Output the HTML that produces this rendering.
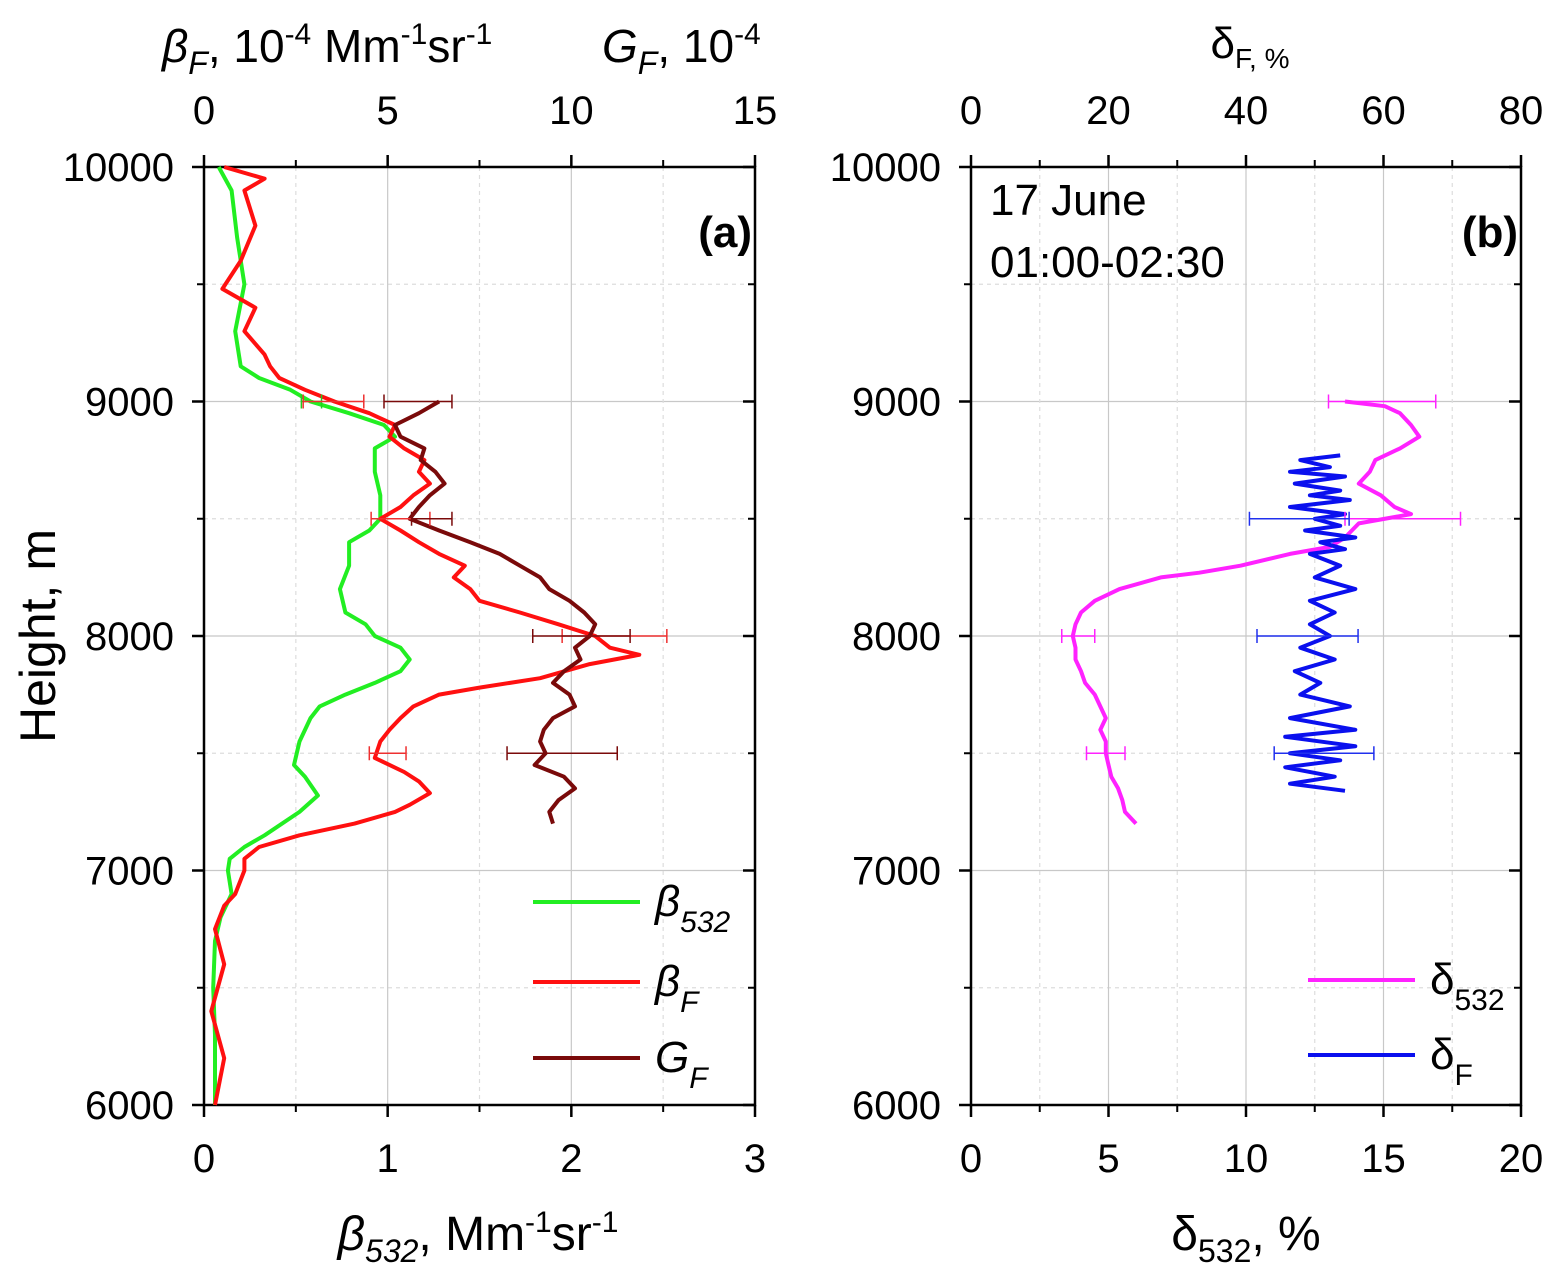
<!DOCTYPE html>
<html><head><meta charset="utf-8"><style>
html,body{margin:0;padding:0;background:#fff;}
svg text{font-family:"Liberation Sans",Arial,sans-serif;fill:#000;}
</style></head><body>
<svg id="chart" width="1557" height="1283" xmlns="http://www.w3.org/2000/svg"></svg>
<script>
// ---- data (heights in m) ----
const heightTicks=[6000,7000,8000,9000,10000];
const aBottomTicks=[0,1,2,3];
const aTopTicks=[0,5,10,15];
const bBottomTicks=[0,5,10,15,20];
const bTopTicks=[0,20,40,60,80];
// beta532, Mm-1 sr-1
const g_h=[10000,9900,9700,9500,9300,9150,9100,9050,9000,8950,8900,8850,8800,8700,8600,8500,8450,8400,8300,8200,8100,8050,8000,7950,7900,7850,7800,7750,7700,7650,7550,7450,7400,7320,7250,7150,7100,7050,7000,6900,6800,6700,6500,6300,6000];
const g_v=[0.08,0.15,0.18,0.22,0.17,0.2,0.3,0.47,0.58,0.79,0.98,1.04,0.93,0.93,0.96,0.96,0.9,0.79,0.79,0.74,0.77,0.88,0.93,1.07,1.12,1.07,0.93,0.77,0.63,0.58,0.52,0.49,0.55,0.62,0.52,0.33,0.22,0.14,0.13,0.15,0.09,0.06,0.05,0.06,0.06];
// betaF, 1e-4 Mm-1 sr-1 (top axis)
const r_h=[10000,9950,9900,9750,9600,9480,9400,9300,9200,9150,9100,9050,9000,8950,8900,8850,8800,8750,8700,8650,8600,8550,8500,8450,8400,8350,8300,8250,8200,8150,8100,8050,8000,7950,7920,7880,7820,7780,7750,7700,7650,7600,7550,7480,7420,7380,7330,7280,7250,7200,7150,7100,7050,7000,6900,6850,6750,6600,6400,6200,6000];
const r_v=[0.55,1.65,1.1,1.4,1.0,0.5,1.4,1.1,1.65,1.8,2.05,2.75,3.55,4.5,5.2,5.05,5.45,6.0,5.85,6.15,5.7,5.35,4.8,5.35,5.85,6.4,7.1,6.8,7.25,7.5,8.6,9.65,10.65,11.05,11.85,10.5,9.15,7.5,6.4,5.7,5.35,5.05,4.8,4.65,5.45,5.85,6.15,5.6,5.2,4.1,2.6,1.5,1.1,1.1,0.85,0.55,0.3,0.55,0.2,0.55,0.3];
// GF, 1e-4 (top axis)
const d_h=[9000,8950,8900,8850,8800,8750,8700,8650,8600,8550,8500,8450,8400,8350,8300,8250,8200,8150,8100,8050,8000,7950,7900,7850,7800,7750,7700,7650,7600,7550,7500,7450,7400,7350,7300,7250,7200];
const d_v=[6.4,5.85,5.2,5.35,6.0,5.9,6.3,6.55,6.15,5.85,5.6,6.4,7.25,8.05,8.6,9.15,9.4,9.95,10.35,10.65,10.5,10.1,10.25,9.8,9.5,9.95,10.1,9.5,9.25,9.15,9.3,9.0,9.8,10.1,9.65,9.4,9.5];
// delta532, %
const m_h=[9000,8980,8950,8900,8850,8800,8750,8700,8650,8600,8550,8520,8480,8420,8380,8350,8300,8270,8250,8200,8150,8100,8050,8000,7950,7900,7850,7800,7750,7700,7650,7600,7550,7500,7450,7400,7350,7300,7250,7200];
const m_v=[13.6,15.05,15.6,16,16.3,15.6,14.7,14.5,14.1,14.9,15.4,16,14.1,13.6,13.05,11.6,9.8,8.3,6.9,5.4,4.5,4,3.8,3.7,3.8,3.8,4,4.15,4.5,4.7,4.9,4.7,4.9,4.9,5.0,5.1,5.35,5.5,5.6,6.0];
// deltaF, % (top axis)
const b_h=[8770,8750,8720,8700,8680,8650,8620,8600,8580,8550,8520,8500,8470,8450,8420,8400,8370,8350,8300,8250,8200,8150,8100,8050,8000,7950,7900,7850,7800,7750,7700,7650,7600,7570,7530,7500,7470,7440,7400,7370,7340];
const b_v=[53.7,47.9,52.2,46.4,54.4,47.1,53.7,49.3,55.1,46.4,54.4,50,53.7,48.6,55.9,50.8,54.4,49.3,53.7,50,55.9,49.3,52.9,49.3,52.2,47.9,52.9,47.1,50.8,47.9,55.1,46.4,55.9,45.7,55.9,46.4,53.7,45.7,52.9,46.4,54.4];
// error bars [height, lo, hi]
const errG=[[9000,0.53,0.64]];
const errR=[[9000,2.7,4.35],[8500,4.55,6.15],[8000,9.75,12.6],[7500,4.5,5.5]];
const errD=[[9000,4.9,6.75],[8500,5.65,6.75],[8000,8.95,11.6],[7500,8.25,11.25]];
const errM=[[9000,13.0,16.9],[8500,13.6,17.8],[8000,3.3,4.5],[7500,4.2,5.6]];
const errB=[[8500,40.5,55.0],[8000,41.6,56.3],[7500,44.1,58.6]];

const NS="http://www.w3.org/2000/svg";
const svg=document.getElementById('chart');
function el(tag,attrs,parent){const e=document.createElementNS(NS,tag);for(const k in attrs)e.setAttribute(k,attrs[k]);(parent||svg).appendChild(e);return e;}
const Y0=1105,Y1=167;
const yS=h=>Y0+(h-6000)/4000*(Y1-Y0);
function panel(x0,x1,bMax,tMax,name){
  const g=el('g',{});
  
  
  const xb=v=>x0+v/bMax*(x1-x0), xt=v=>x0+v/tMax*(x1-x0);
  for(let h=6000;h<=10000;h+=500){const y=yS(h);el('line',{x1:x0,x2:x1,y1:y,y2:y,stroke:h%1000?'#ddd':'#c8c8c8','stroke-width':1.2,'stroke-dasharray':h%1000?'4,4':'none'},g);}
  for(let v=0;v<=bMax;v+=bMax/(bMax==3?6:8)){const x=xb(v);const major=Math.abs(v-Math.round(v/(bMax==3?1:5))*(bMax==3?1:5))<1e-6;el('line',{x1:x,x2:x,y1:Y1,y2:Y0,stroke:major?'#c8c8c8':'#ddd','stroke-width':1.2,'stroke-dasharray':major?'none':'4,4'},g);}
  el('rect',{x:x0,y:Y1,width:x1-x0,height:Y0-Y1,fill:'none',stroke:'#000','stroke-width':2.5},g);
  return {g,xb,xt};
}
function ticksAndLabels(P,x0,x1,bTicks,tTicks,bMax,tMax){
  const g=P.g;
  heightTicks.forEach(h=>{const y=yS(h);
    el('line',{x1:x0-12,x2:x0,y1:y,y2:y,stroke:'#000','stroke-width':2.5},g);
    el('line',{x1:x1-12,x2:x1,y1:y,y2:y,stroke:'#000','stroke-width':2.5},g);
    const t=el('text',{x:x0-30,y:y+14,'font-size':40,'text-anchor':'end'},g);t.textContent=h;
    });
  for(let h=6500;h<10000;h+=1000){const y=yS(h);el('line',{x1:x0-7,x2:x0,y1:y,y2:y,stroke:'#000','stroke-width':2},g);el('line',{x1:x1-7,x2:x1,y1:y,y2:y,stroke:'#000','stroke-width':2},g);}
  bTicks.forEach(v=>{const x=P.xb(v);el('line',{x1:x,x2:x,y1:Y0,y2:Y0+12,stroke:'#000','stroke-width':2.5},g);
    const t=el('text',{x:x,y:Y0+67,'font-size':40,'text-anchor':'middle'},g);t.textContent=v;
    });
  for(let i=0;i<bTicks.length-1;i++){const x=P.xb((bTicks[i]+bTicks[i+1])/2);el('line',{x1:x,x2:x,y1:Y0,y2:Y0+7,stroke:'#000','stroke-width':2},g);}
  tTicks.forEach(v=>{const x=P.xt(v);el('line',{x1:x,x2:x,y1:Y1-12,y2:Y1,stroke:'#000','stroke-width':2.5},g);
    const t=el('text',{x:x,y:Y1-43,'font-size':40,'text-anchor':'middle'},g);t.textContent=v;
    });
  for(let i=0;i<tTicks.length-1;i++){const x=P.xt((tTicks[i]+tTicks[i+1])/2);el('line',{x1:x,x2:x,y1:Y1-7,y2:Y1,stroke:'#000','stroke-width':2},g);}
}
function series(hs,vs,xf,color,name){
  const d=hs.map((h,i)=>(i?'L':'M')+xf(vs[i]).toFixed(1)+','+yS(h).toFixed(1)).join('');
  const p=el('path',{d:d,fill:'none',stroke:color,'stroke-width':4,'stroke-linejoin':'round'});
  
  
}
function errs(arr,xf,color,name){
  arr.forEach(e=>{const y=yS(e[0]),a=xf(e[1]),b=xf(e[2]);
    const g=el('g',{stroke:color,'stroke-width':1.5});
    
    
    el('line',{x1:a,x2:b,y1:y,y2:y},g);el('line',{x1:a,x2:a,y1:y-7,y2:y+7},g);el('line',{x1:b,x2:b,y1:y-7,y2:y+7},g);});
}
function txt(x,y,s,size,name,anchor,extra){const t=el('text',Object.assign({x:x,y:y,'font-size':size,'text-anchor':anchor||'start'},extra||{}));t.innerHTML=s;return t;}

const A=panel(204,755,3,15,'panel-a');
ticksAndLabels(A,204,755,aBottomTicks,aTopTicks,3,15);
series(g_h,g_v,A.xb,'#22ee22','series-beta532');
series(r_h,r_v,A.xt,'#ff1010','series-betaF');
series(d_h,d_v,A.xt,'#7a0a0a','series-GF');
errs(errG,A.xb,'#22cc22','error-bar-beta532');
errs(errR,A.xt,'#ee3030','error-bar-betaF');
errs(errD,A.xt,'#7a0a0a','error-bar-GF');
const B=panel(971,1521,20,80,'panel-b');
ticksAndLabels(B,971,1521,bBottomTicks,bTopTicks,20,80);
series(m_h,m_v,B.xb,'#ff22ff','series-delta532');
series(b_h,b_v,B.xt,'#0a10ee','series-deltaF');
errs(errM,B.xb,'#ff22ff','error-bar-delta532');
errs(errB,B.xt,'#2030ee','error-bar-deltaF');

txt(752,247,'(a)',44,'panel-a-label','end',{'font-weight':'bold'});
txt(1518,247,'(b)',44,'panel-b-label','end',{'font-weight':'bold'});
txt(990,215,'17 June',44,'date-label');
txt(990,277,'01:00-02:30',44,'time-label');
const yl=txt(0,0,'Height, m',50,'y-axis-title','middle');yl.setAttribute('transform','translate(55,636) rotate(-90)');
txt(478,1250,'<tspan font-style="italic">β</tspan><tspan font-style="italic" font-size="32" dy="12">532</tspan><tspan dy="-12">, Mm</tspan><tspan font-size="30" dy="-18">-1</tspan><tspan dy="18">sr</tspan><tspan font-size="30" dy="-18">-1</tspan>',48,'x-axis-bottom-title-a','middle');
txt(1246,1250,'δ<tspan font-size="32" dy="12">532</tspan><tspan dy="-12">, %</tspan>',48,'x-axis-bottom-title-b','middle');
txt(162,62,'<tspan font-style="italic">β</tspan><tspan font-style="italic" font-size="32" dy="12">F</tspan><tspan dy="-12">, 10</tspan><tspan font-size="30" dy="-18">-4</tspan><tspan dy="18"> Mm</tspan><tspan font-size="30" dy="-18">-1</tspan><tspan dy="18">sr</tspan><tspan font-size="30" dy="-18">-1</tspan><tspan dy="18" x="602" font-style="italic">G</tspan><tspan font-style="italic" font-size="32" dy="12">F</tspan><tspan dy="-12">, 10</tspan><tspan font-size="30" dy="-18">-4</tspan>',46,'x-axis-top-title-a','start');
txt(1250,58,'δ<tspan font-size="28" dy="10">F, %</tspan>',44,'x-axis-top-title-b','middle');

function legend(x1,x2,y,color,label,name){
  const g=el('g',{});
  el('line',{x1:x1,x2:x2,y1:y,y2:y,stroke:color,'stroke-width':4},g);
  const t=el('text',{x:x2+15,y:y+14,'font-size':44},g);t.innerHTML=label;
}
legend(533,640,902,'#22ee22','<tspan font-style="italic">β</tspan><tspan font-style="italic" font-size="30" dy="16">532</tspan>','legend-beta532');
legend(533,640,982,'#ff1010','<tspan font-style="italic">β</tspan><tspan font-style="italic" font-size="30" dy="16">F</tspan>','legend-betaF');
legend(533,640,1058,'#7a0a0a','<tspan font-style="italic">G</tspan><tspan font-style="italic" font-size="30" dy="16">F</tspan>','legend-GF');
legend(1308,1415,980,'#ff22ff','δ<tspan font-size="30" dy="16">532</tspan>','legend-delta532');
legend(1308,1415,1055,'#0a10ee','δ<tspan font-size="30" dy="16">F</tspan>','legend-deltaF');
</script>
</body></html>
